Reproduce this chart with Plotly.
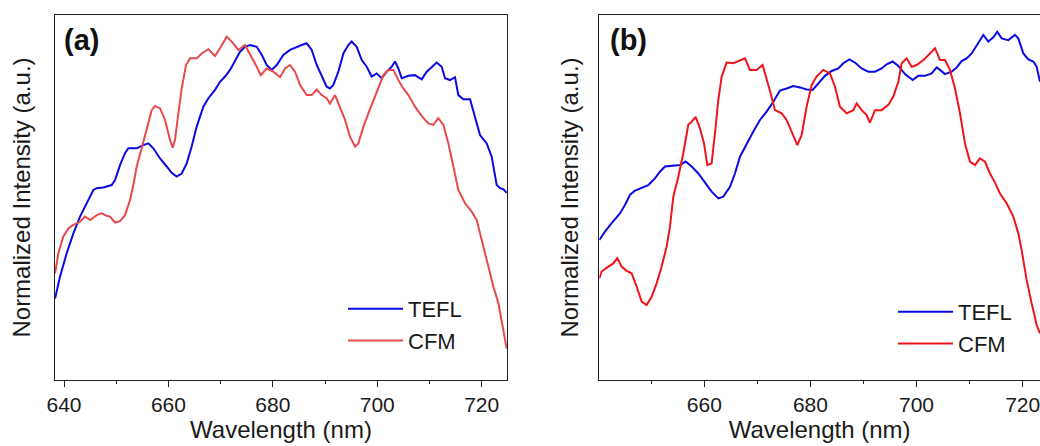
import plotly.graph_objects as go

# ---------------- Panel (a) data ----------------
a_tefl_wl = [638.28, 639.23, 640.51, 641.79, 643.06, 644.34, 645.62, 646.26, 647.53, 649.13, 649.77, 650.73,
             651.68, 652.32, 653.92, 655.20, 656.15, 657.11, 658.39, 659.67, 660.62, 661.58, 662.54, 663.50,
             664.45, 665.41, 666.69, 667.65, 668.92, 669.88, 670.84, 671.80, 672.76, 673.71, 674.67, 675.63,
             676.91, 677.86, 678.82, 679.78, 680.74, 682.01, 683.29, 684.57, 685.53, 686.48, 687.44, 688.40,
             689.36, 690.31, 690.95, 691.59, 692.55, 693.51, 694.46, 695.10, 696.06, 697.02, 697.98, 698.93,
             699.89, 700.85, 701.81, 702.76, 703.40, 704.04, 704.68, 705.96, 707.23, 708.51, 709.47, 710.43,
             711.38, 712.34, 712.98, 713.94, 714.90, 715.53, 716.49, 717.77, 718.73, 719.68, 720.96, 721.92,
             722.88, 723.52, 724.15, 724.79]
a_tefl_int = [0.233, 0.295, 0.362, 0.419, 0.467, 0.505, 0.543, 0.548, 0.550, 0.557, 0.571, 0.614,
              0.648, 0.662, 0.662, 0.671, 0.676, 0.662, 0.633, 0.610, 0.592, 0.581, 0.590, 0.619,
              0.667, 0.724, 0.781, 0.805, 0.829, 0.852, 0.867, 0.886, 0.914, 0.938, 0.952, 0.957,
              0.952, 0.929, 0.900, 0.886, 0.900, 0.929, 0.943, 0.952, 0.957, 0.962, 0.943, 0.900,
              0.867, 0.838, 0.833, 0.843, 0.881, 0.933, 0.957, 0.967, 0.952, 0.914, 0.895, 0.867,
              0.876, 0.862, 0.881, 0.895, 0.910, 0.890, 0.862, 0.869, 0.871, 0.859, 0.881, 0.895,
              0.907, 0.895, 0.862, 0.857, 0.865, 0.814, 0.802, 0.802, 0.752, 0.700, 0.676, 0.638,
              0.557, 0.548, 0.545, 0.535]

a_cfm_wl = [638.28, 638.91, 639.87, 640.83, 641.79, 643.06, 644.02, 644.98, 646.26, 647.22, 648.17, 648.81,
            649.77, 650.73, 651.68, 652.64, 653.28, 653.92, 654.88, 655.83, 656.79, 657.43, 658.39, 659.35,
            660.30, 660.82, 661.26, 661.90, 662.54, 663.37, 664.14, 665.41, 666.37, 667.65, 668.92, 669.88,
            671.16, 672.12, 673.39, 674.67, 675.95, 676.91, 677.67, 678.82, 680.10, 681.37, 682.33, 683.29,
            684.25, 685.21, 686.48, 687.44, 688.40, 689.36, 690.31, 690.95, 691.91, 692.87, 693.83, 694.78,
            695.74, 696.38, 697.34, 698.30, 699.25, 700.21, 701.17, 702.13, 703.08, 704.04, 705.00, 705.96,
            707.23, 708.51, 709.79, 710.75, 711.70, 712.66, 713.62, 714.58, 715.53, 716.81, 718.09, 719.05,
            720.00, 721.28, 722.24, 723.20, 724.15, 724.79]
a_cfm_int = [0.305, 0.362, 0.410, 0.433, 0.443, 0.452, 0.467, 0.457, 0.471, 0.476, 0.469, 0.467,
             0.450, 0.454, 0.471, 0.514, 0.557, 0.610, 0.662, 0.714, 0.771, 0.783, 0.776, 0.743,
             0.686, 0.664, 0.686, 0.762, 0.833, 0.900, 0.919, 0.919, 0.933, 0.945, 0.926, 0.948,
             0.981, 0.967, 0.943, 0.957, 0.924, 0.895, 0.871, 0.890, 0.881, 0.865, 0.890, 0.900,
             0.881, 0.843, 0.814, 0.814, 0.830, 0.814, 0.805, 0.790, 0.814, 0.781, 0.743, 0.695,
             0.667, 0.676, 0.724, 0.762, 0.800, 0.838, 0.871, 0.886, 0.886, 0.857, 0.833, 0.814,
             0.781, 0.754, 0.733, 0.729, 0.748, 0.729, 0.676, 0.610, 0.543, 0.505, 0.481, 0.457,
             0.400, 0.324, 0.267, 0.219, 0.143, 0.090]

# ---------------- Panel (b) data ----------------
b_tefl_wl = [640.21, 641.28, 642.53, 644.10, 645.05, 645.99, 646.93, 648.19, 649.45, 650.70, 651.64, 652.59,
             654.16, 655.41, 656.48, 657.61, 658.87, 660.13, 661.38, 662.64, 663.58, 664.84, 665.78, 666.72,
             667.98, 669.24, 670.49, 671.75, 673.01, 674.26, 675.52, 676.77, 678.03, 679.29, 680.42, 681.49,
             682.74, 684.00, 685.26, 686.20, 687.33, 688.40, 689.65, 690.91, 692.17, 693.42, 694.37, 695.50,
             696.57, 697.82, 699.27, 700.33, 701.59, 702.85, 703.79, 704.42, 705.36, 706.62, 707.56, 708.50,
             709.44, 710.39, 711.33, 712.59, 713.53, 714.47, 715.22, 716.04, 717.30, 718.55, 719.18, 720.13,
             721.07, 722.01, 722.64, 723.27]
b_tefl_int = [0.400, 0.424, 0.448, 0.476, 0.500, 0.529, 0.541, 0.550, 0.557, 0.576, 0.595, 0.610,
              0.612, 0.614, 0.624, 0.610, 0.590, 0.564, 0.538, 0.519, 0.524, 0.552, 0.590, 0.638,
              0.676, 0.710, 0.743, 0.767, 0.795, 0.827, 0.833, 0.840, 0.836, 0.830, 0.829, 0.848,
              0.869, 0.883, 0.890, 0.905, 0.916, 0.907, 0.890, 0.881, 0.881, 0.890, 0.902, 0.910,
              0.897, 0.874, 0.857, 0.869, 0.869, 0.876, 0.893, 0.886, 0.874, 0.881, 0.893, 0.911,
              0.919, 0.933, 0.957, 0.986, 0.967, 0.979, 0.995, 0.976, 0.971, 0.986, 0.976, 0.933,
              0.916, 0.910, 0.895, 0.852]

b_cfm_wl = [640.21, 640.65, 641.91, 642.85, 643.60, 644.42, 645.36, 646.30, 647.25, 648.19, 649.13, 650.07,
            651.02, 651.96, 652.90, 653.53, 654.16, 655.10, 656.04, 656.98, 657.61, 658.37, 659.18, 659.94,
            660.57, 661.38, 662.01, 662.64, 663.27, 664.21, 665.47, 666.41, 667.66, 668.61, 669.86, 670.99,
            671.75, 672.50, 673.32, 674.58, 675.52, 676.46, 677.53, 678.35, 679.29, 680.23, 681.17, 682.43,
            683.69, 684.63, 685.57, 686.83, 688.08, 688.71, 689.65, 690.60, 691.22, 692.17, 693.42, 694.68,
            695.62, 696.57, 697.19, 698.14, 699.08, 700.02, 701.28, 702.53, 703.48, 704.42, 705.36, 706.30,
            707.25, 708.19, 709.13, 710.07, 711.02, 711.96, 712.90, 713.84, 714.79, 715.73, 716.98, 718.24,
            719.18, 719.81, 720.75, 721.70, 722.64, 723.27]
b_cfm_int = [0.290, 0.310, 0.324, 0.333, 0.348, 0.324, 0.312, 0.305, 0.267, 0.224, 0.214, 0.238,
             0.276, 0.324, 0.381, 0.438, 0.524, 0.581, 0.648, 0.729, 0.738, 0.752, 0.719, 0.676,
             0.614, 0.619, 0.705, 0.800, 0.867, 0.907, 0.905, 0.912, 0.919, 0.886, 0.886, 0.900,
             0.862, 0.819, 0.771, 0.762, 0.743, 0.710, 0.671, 0.700, 0.781, 0.843, 0.867, 0.886,
             0.876, 0.838, 0.781, 0.762, 0.771, 0.790, 0.771, 0.757, 0.735, 0.771, 0.771, 0.786,
             0.810, 0.852, 0.905, 0.919, 0.895, 0.900, 0.914, 0.933, 0.948, 0.914, 0.914, 0.886,
             0.833, 0.762, 0.676, 0.624, 0.614, 0.633, 0.624, 0.590, 0.564, 0.533, 0.505, 0.467,
             0.419, 0.371, 0.286, 0.219, 0.157, 0.133]

x_tick_vals = [640, 660, 680, 700, 720]
x_tick_text = ["640", "660", "680", "700", "720"]
series_names = ["TEFL", "CFM"]
panel_labels = ["(a)", "(b)"]

BLUE = "#0A0AE6"
RED_A = "#E84A4C"
RED_B = "#F0141A"
FONT = "Liberation Sans, Arial, sans-serif"
TXT = "#1a1a1a"

fig = go.Figure()
fig.add_trace(go.Scatter(x=a_tefl_wl, y=a_tefl_int, mode="lines", name=series_names[0],
                         line=dict(color=BLUE, width=2), xaxis="x", yaxis="y", legend="legend"))
fig.add_trace(go.Scatter(x=a_cfm_wl, y=a_cfm_int, mode="lines", name=series_names[1],
                         line=dict(color=RED_A, width=2), xaxis="x", yaxis="y", legend="legend"))
fig.add_trace(go.Scatter(x=b_tefl_wl, y=b_tefl_int, mode="lines", name=series_names[0],
                         line=dict(color=BLUE, width=2), xaxis="x2", yaxis="y2", legend="legend2"))
fig.add_trace(go.Scatter(x=b_cfm_wl, y=b_cfm_int, mode="lines", name=series_names[1],
                         line=dict(color=RED_B, width=2), xaxis="x2", yaxis="y2", legend="legend2"))

W, H = 1040, 446
ydom = [(H - 380) / H, (H - 15) / H]

def xaxis(domain, rng, anchor):
    return dict(domain=domain, range=rng, anchor=anchor, showgrid=False, zeroline=False,
                automargin=False, ticklabeloverflow="allow",
                showline=True, linecolor="#222", linewidth=1, mirror=True,
                ticks="outside", ticklen=6, tickwidth=1, tickcolor="#222",
                tickvals=x_tick_vals, ticktext=x_tick_text,
                minor=dict(tickvals=[650, 670, 690, 710], ticks="outside", ticklen=3, tickcolor="#222"),
                tickfont=dict(family=FONT, size=21, color=TXT),
                title=dict(text="Wavelength (nm)", font=dict(family=FONT, size=24, color=TXT), standoff=4))

def yaxis(anchor, mirror, standoff):
    return dict(domain=ydom, range=[0, 365 / 350], anchor=anchor, showgrid=False, zeroline=False,
                automargin=False,
                showline=True, linecolor="#222", linewidth=1, mirror=mirror,
                showticklabels=False, ticks="",
                title=dict(text="Normalized Intensity (a.u.)", font=dict(family=FONT, size=24, color=TXT),
                           standoff=standoff))

fig.update_layout(
    width=W, height=H, margin=dict(l=0, r=0, t=0, b=0, autoexpand=False),
    paper_bgcolor="white", plot_bgcolor="white",
    xaxis=xaxis([55 / W, 507 / W], [638.27, 724.85], "y"),
    yaxis=yaxis("x", True, 16),
    xaxis2=xaxis([599.3 / W, 1.0], [640.21, 723.27], "y2"),
    yaxis2=yaxis("x2", False, 12),
    legend=dict(x=343 / W, y=(H - 288) / H, xanchor="left", yanchor="top",
                bgcolor="rgba(255,255,255,0)", font=dict(family=FONT, size=22, color=TXT),
                itemwidth=55, tracegroupgap=0),
    legend2=dict(x=893 / W, y=(H - 291) / H, xanchor="left", yanchor="top",
                 bgcolor="rgba(255,255,255,0)", font=dict(family=FONT, size=22, color=TXT),
                 itemwidth=55, tracegroupgap=0),
    showlegend=True,
)

for lab, xpos in zip(panel_labels, [62 / W, 608 / W]):
    fig.add_annotation(text="<b>" + lab + "</b>", x=xpos, y=(H - 40) / H, xref="paper", yref="paper",
                       xanchor="left", yanchor="middle", showarrow=False,
                       font=dict(family=FONT, size=29, color="#111"))

fig.write_html("out.html", config={"displayModeBar": False},
               post_script="document.body.style.margin='0';document.body.style.overflow='hidden';")
